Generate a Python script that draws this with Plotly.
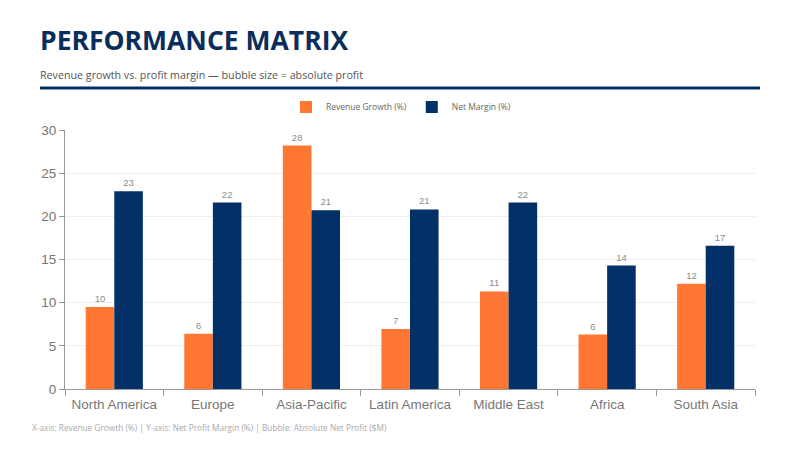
import plotly.graph_objects as go

regions = ["North America", "Europe", "Asia-Pacific", "Latin America", "Middle East", "Africa", "South Asia"]
revenue_growth = [9.5, 6.4, 28.2, 6.95, 11.3, 6.3, 12.2]
net_margin = [22.9, 21.6, 20.7, 20.8, 21.6, 14.3, 16.6]

ORANGE = "#FF7733"
NAVY = "#023067"

# page is offset by the browser's default 8px body margin
L, R, T, B = 57, 53, 122, 69
PW, PH = 800 - L - R, 450 - T - B


def px_x(page_x):
    return (page_x - 8 - L) / PW


def px_y(page_y):
    return (450 - B - (page_y - 8)) / PH


fig = go.Figure()
for name, vals, col in [("Revenue Growth (%)", revenue_growth, ORANGE),
                        ("Net Margin (%)", net_margin, NAVY)]:
    fig.add_trace(go.Bar(
        name=name, x=regions, y=vals,
        marker=dict(color=col, line=dict(width=0)),
        texttemplate="%{y:.0f}", textposition="outside",
        textfont=dict(size=9.5, color="#8C8C8C", family="Liberation Sans"),
        cliponaxis=False,
    ))

fig.update_layout(
    width=800, height=450,
    paper_bgcolor="white", plot_bgcolor="white",
    margin=dict(l=L, r=R, t=T, b=B, autoexpand=False),
    barmode="group", bargap=0.42, bargroupgap=0,
    showlegend=True,
    legend=dict(orientation="h", x=px_x(401), xref="paper", xanchor="center",
                y=px_y(107), yref="paper", yanchor="middle",
                font=dict(size=8.5, color="#666666", family="Open Sans"),
                itemwidth=30, bgcolor="rgba(0,0,0,0)"),
    font=dict(family="Liberation Sans"),
    xaxis=dict(
        showline=True, linecolor="#999999", linewidth=1,
        ticks="outside", tickson="boundaries", ticklen=6, tickcolor="#999999",
        tickfont=dict(size=13.5, color="#777777"), ticklabelstandoff=3,
        showgrid=False,
    ),
    yaxis=dict(
        range=[0, 30], dtick=5,
        showline=True, linecolor="#999999", linewidth=1,
        ticks="outside", ticklen=5, tickcolor="#999999",
        tickfont=dict(size=13.5, color="#777777"),
        showgrid=True, gridcolor="#EEEEEE", gridwidth=1,
        zeroline=False,
    ),
    shapes=[dict(type="line", xref="paper", yref="paper",
                 x0=px_x(40), x1=px_x(760), y0=px_y(88), y1=px_y(88),
                 line=dict(color=NAVY, width=3))],
    annotations=[
        dict(text="<b>PERFORMANCE MATRIX</b>", xref="paper", yref="paper",
             x=px_x(38), y=px_y(40), xanchor="left", yanchor="middle", showarrow=False,
             font=dict(size=26.5, color="#0B2D5B", family="Open Sans")),
        dict(text="Revenue growth vs. profit margin — bubble size = absolute profit",
             xref="paper", yref="paper", x=px_x(38), y=px_y(75), xanchor="left", yanchor="middle",
             showarrow=False, font=dict(size=10.7, color="#555555", family="Open Sans")),
        dict(text="X-axis: Revenue Growth (%) | Y-axis: Net Profit Margin (%) | Bubble: Absolute Net Profit ($M)",
             xref="paper", yref="paper", x=px_x(30), y=px_y(427), xanchor="left", yanchor="middle",
             showarrow=False, font=dict(size=8.3, color="#AAAAAA", family="Open Sans")),
    ],
)

fig.write_html("out.html")
